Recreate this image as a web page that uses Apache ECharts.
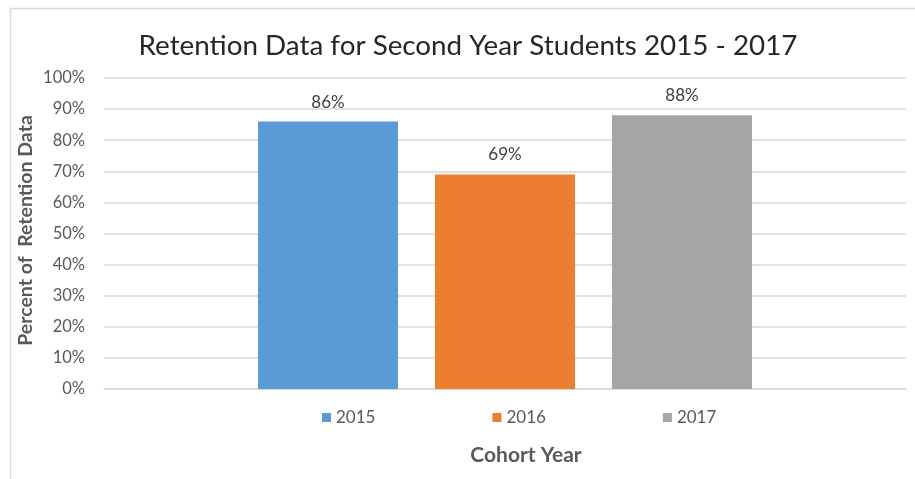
<!DOCTYPE html>
<html>
<head>
<meta charset="utf-8">
<script src="https://cdn.jsdelivr.net/npm/echarts@6/dist/echarts.min.js"></script>
<style>html,body{margin:0;padding:0;background:#fff}#c{width:915px;height:479px}</style>
</head>
<body>
<div id="c"></div>
<script>
const categories = ['Cohort'];
const seriesNames = ['2015', '2016', '2017'];
const values2015 = [86];
const values2016 = [69];
const values2017 = [88];
const colors = ['#5B9BD5', '#ED7D31', '#A5A5A5'];
const FONT = 'Lato';

const chart = echarts.init(document.getElementById('c'));
const seriesValues = [values2015, values2016, values2017];
chart.setOption({
  animation: false,
  textStyle: { fontFamily: FONT },
  graphic: [{
    type: 'rect', left: 8, top: 6, shape: { width: 930, height: 490 },
    style: { fill: 'none', stroke: '#D9D9D9', lineWidth: 1.5 }, silent: true, z: -1
  }],
  title: {
    text: 'Retention Data for Second Year Students 2015 - 2017',
    left: 463, textAlign: 'center', top: 27,
    textStyle: { fontFamily: FONT, fontSize: 27.8, fontWeight: 'normal', color: '#262626' }
  },
  legend: {
    data: seriesNames, left: 317, top: 404,
    itemWidth: 9, itemHeight: 9, itemGap: 117, icon: 'rect',
    textStyle: { fontFamily: FONT, fontSize: 17, color: '#595959' }
  },
  grid: { left: 104, right: 9, top: 78, bottom: 90 },
  xAxis: {
    type: 'category', data: categories,
    name: 'Cohort Year', nameLocation: 'middle', nameGap: 56,
    nameTextStyle: { fontFamily: FONT, fontSize: 21, fontWeight: 'bold', color: '#595959', padding: [0, 0, 0, 42] },
    axisLabel: { show: false }, axisTick: { show: false },
    axisLine: { lineStyle: { color: '#D9D9D9', width: 1.5 } }
  },
  yAxis: {
    type: 'value', min: 0, max: 100, interval: 10,
    name: 'Percent of  Retention Data', nameLocation: 'middle', nameGap: 68, nameRotate: 90,
    nameMoveOverlap: false,
    nameTextStyle: { fontFamily: FONT, fontSize: 19.5, fontWeight: 'bold', color: '#595959', padding: [0, 0, 0, 6] },
    axisLabel: { formatter: '{value}%', fontFamily: FONT, fontSize: 16.5, color: '#595959', margin: 19 },
    axisLine: { show: false }, axisTick: { show: false },
    splitLine: { lineStyle: { color: '#D9D9D9', width: 1.5 } }
  },
  series: seriesNames.map((n, i) => ({
    name: n, type: 'bar', data: seriesValues[i],
    barGap: '26.4%', barCategoryGap: '38.4%',
    itemStyle: { color: colors[i] },
    label: { show: true, position: 'top', distance: 11, formatter: '{c}%', fontFamily: FONT, fontSize: 17, color: '#404040' }
  }))
});
</script>
</body>
</html>
